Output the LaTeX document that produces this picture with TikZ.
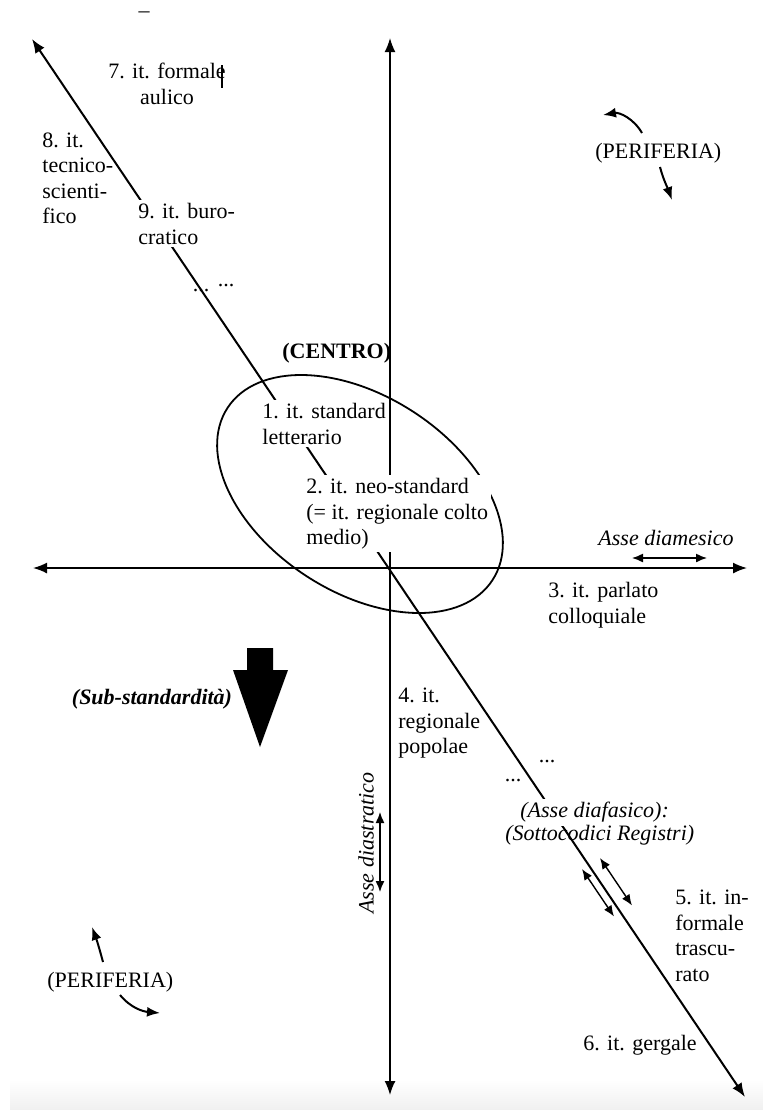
\documentclass[tikz,border=0pt]{standalone}
\usepackage{fontspec}
\setmainfont{Liberation Serif}
\usetikzlibrary{arrows.meta}
\begin{document}
\begin{tikzpicture}[x=0.5pt,y=0.5pt,
  lbl/.style={inner sep=1.5pt,align=left,font=\fontsize{11}{12.75}\selectfont},
  lblw/.style={lbl,fill=white},
  itl/.style={font=\fontsize{11}{12.75}\selectfont\itshape},
  axis/.style={line width=0.8pt,{Latex[length=7pt,width=5.5pt]}-{Latex[length=7pt,width=5.5pt]}},
  dbl/.style={line width=0.7pt,{Latex[length=5.5pt,width=4.5pt]}-{Latex[length=5.5pt,width=4.5pt]}},
  bent/.style={line width=1pt,-{Latex[length=6.5pt,width=5pt]}}]
\useasboundingbox(0,0)rectangle(763,-1110);
\shade[top color=white,bottom color=gray!12](10,-1080)rectangle(763,-1110);
% axes and centre
\coordinate(vtop)at(390,-38);\coordinate(vbot)at(390,-1095);
\coordinate(hl)at(33,-568);\coordinate(hr)at(747,-568);
\coordinate(dtop)at(32,-39);\coordinate(dbot)at(745,-1097);
\draw[axis](vtop)--(vbot);
\draw[axis](hl)--(hr);
\draw[axis,line width=1pt](dtop)--(dbot);
\draw[line width=0.9pt,rotate around={-33:(360,-494)}](360,-494)ellipse[x radius=79pt,y radius=49pt];
% labels
\node[lbl](dash)at(144,-15){–};
\node[lbl,anchor=north west,align=center](n7)at(105,-60){7. it. formale\\aulico};
\draw[line width=0.6pt](222,-65)--(222,-88);
\node[lbl,anchor=north west](n8)at(39,-129){8. it.\\tecnico-\\scienti-\\fico};
\node[lblw,anchor=north west](n9)at(135,-200){9. it. buro-\\cratico};
\node[lbl](d1)at(201,-291){...};
\node[lbl](d2)at(226,-286){...};
\node[lbl,anchor=north west,font=\fontsize{11}{12.75}\selectfont\bfseries](cen)at(279,-340){(CENTRO)};
\node[lblw,anchor=north west](n1)at(259,-400){1. it. standard\\letterario};
\node[lblw,anchor=north west](n2)at(303,-475){2. it. neo-standard\\(= it. regionale colto\\medio)};
\node[lbl,itl](dme)at(666,-538){Asse diamesico};
\draw[dbl](632,-558)--(707,-558);
\node[lbl,anchor=north west](n3)at(545,-579){3. it. parlato\\colloquiale};
\fill(247,-648)--(273,-648)--(273,-670)--(288,-670)--(260,-747)--(233,-670)--(247,-670)--cycle;
\node[lbl,font=\fontsize{11}{12.75}\selectfont\bfseries\itshape](sub)at(152,-699){(Sub-standardità)};
\node[lbl,anchor=north west](n4)at(395,-685){4. it.\\regionale\\popolae};
\node[lbl](d3)at(547,-761){...};
\node[lbl](d4)at(513,-781){...};
\node[lblw,itl,anchor=north west](dfa)at(517,-799){(Asse diafasico):};
\node[lbl,itl,anchor=north west](sot)at(502,-822){(Sottocodici Registri)};
\draw[dbl](600,-858)--(632,-905.5);
\draw[dbl](582,-869)--(614,-916.5);
\node[lbl,itl,rotate=90](dst)at(366,-843){Asse diastratico};
\draw[dbl](380,-812)--(380,-892);
\node[lbl,anchor=north west](n5)at(672,-887){5. it. in-\\formale\\trascu-\\rato};
\node[lbl,anchor=north west](n6)at(580,-1032){6. it. gergale};
% periphery
\node[lbl,anchor=north west](per1)at(592,-140){(PERIFERIA)};
\draw[bent](642,-133)to[out=120,in=10](603,-115);
\draw[bent](660,-167)to[out=-75,in=110](672,-200);
\node[lbl,anchor=north west](per2)at(44,-969){(PERIFERIA)};
\draw[bent](103,-962)to[out=105,in=-70](92,-927);
\draw[bent](120,-995)to[out=-50,in=175](160,-1013);
\end{tikzpicture}
\end{document}
